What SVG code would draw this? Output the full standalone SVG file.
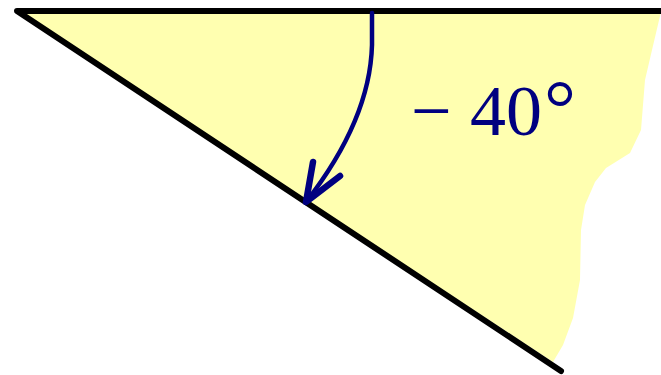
<svg xmlns="http://www.w3.org/2000/svg" width="661" height="375" viewBox="0 0 661 375">
<style>
.edge{fill:none;stroke:#000;stroke-width:6;stroke-linejoin:round;stroke-linecap:round}
.arc{fill:none;stroke:#000080;stroke-width:4.5;stroke-linecap:round;stroke-linejoin:round}
.head{fill:none;stroke:#000080;stroke-width:6.5;stroke-linecap:round;stroke-linejoin:round}
.lbl{font-family:"Liberation Serif","Times New Roman",serif;font-size:72px;fill:#000080}
</style>
<rect width="661" height="375" fill="#fff"/>
<g id="region">
<path d="M17,11 L661,11 L660,16 L652,50 L645,80 L641,130 L630,153 L606,168 L595,182 L585,205 L581,230 L580,280 L573,318 L563,345 L553,362 Z" fill="#ffffb0"/>
</g>
<g id="lines">
<polyline class="edge" points="661,11 17,11 561,371"/>
</g>
<g id="connectors">
<path class="arc" d="M372,13 L372,45 Q370,120 306,202"/>
<path class="head" d="M313,162 L306,202 L340,176"/>
</g>
<g id="label">
<text class="lbl" x="411" y="135">−<tspan x="470">40</tspan><tspan font-size="80" dx="2">°</tspan></text>
</g>
</svg>
